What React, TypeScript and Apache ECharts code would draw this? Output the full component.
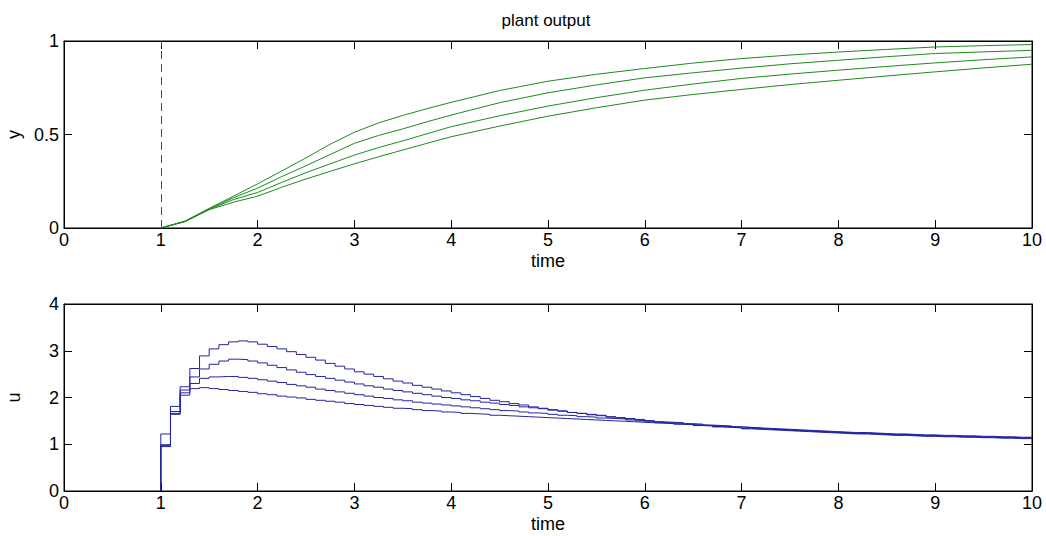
import React, { useEffect, useRef } from "react";
import * as echarts from "echarts";

// ---- plant output y(t) (top panel) ----
const tY = [1, 1.25, 1.5, 1.75, 2, 2.25, 2.5, 2.75, 3, 3.25, 3.5, 3.75, 4, 4.5, 5, 5.5, 6, 6.5, 7, 7.5, 8, 8.5, 9, 9.5, 10];
const y1 = [0, 0.037, 0.105, 0.17, 0.236, 0.305, 0.375, 0.448, 0.512, 0.562, 0.602, 0.638, 0.672, 0.735, 0.785, 0.822, 0.853, 0.882, 0.906, 0.925, 0.941, 0.955, 0.968, 0.975, 0.981];
const y2 = [0, 0.036, 0.102, 0.162, 0.213, 0.275, 0.333, 0.393, 0.453, 0.495, 0.53, 0.568, 0.604, 0.67, 0.723, 0.765, 0.803, 0.83, 0.855, 0.878, 0.897, 0.916, 0.933, 0.942, 0.95];
const y3 = [0, 0.035, 0.1, 0.152, 0.19, 0.244, 0.296, 0.343, 0.39, 0.43, 0.466, 0.504, 0.542, 0.6, 0.652, 0.697, 0.737, 0.77, 0.8, 0.823, 0.844, 0.864, 0.883, 0.9, 0.915];
const y4 = [0, 0.034, 0.098, 0.138, 0.17, 0.218, 0.262, 0.303, 0.343, 0.381, 0.417, 0.453, 0.488, 0.545, 0.598, 0.643, 0.684, 0.714, 0.741, 0.767, 0.79, 0.813, 0.835, 0.856, 0.876];
const refTime = 1;

// ---- control input u(t) (bottom panel), zero-order hold, sample 0.1 from t=1.0 to 10.0 ----
const tU = [
  1.0, 1.1, 1.2, 1.3, 1.4, 1.5, 1.6, 1.7, 1.8, 1.9,
  2.0, 2.1, 2.2, 2.3, 2.4, 2.5, 2.6, 2.7, 2.8, 2.9,
  3.0, 3.1, 3.2, 3.3, 3.4, 3.5, 3.6, 3.7, 3.8, 3.9,
  4.0, 4.1, 4.2, 4.3, 4.4, 4.5, 4.6, 4.7, 4.8, 4.9,
  5.0, 5.1, 5.2, 5.3, 5.4, 5.5, 5.6, 5.7, 5.8, 5.9,
  6.0, 6.1, 6.2, 6.3, 6.4, 6.5, 6.6, 6.7, 6.8, 6.9,
  7.0, 7.1, 7.2, 7.3, 7.4, 7.5, 7.6, 7.7, 7.8, 7.9,
  8.0, 8.1, 8.2, 8.3, 8.4, 8.5, 8.6, 8.7, 8.8, 8.9,
  9.0, 9.1, 9.2, 9.3, 9.4, 9.5, 9.6, 9.7, 9.8, 9.9,
  10.0,
];
const u1 = [
  1.22, 1.81, 2.23, 2.62, 2.89, 3.04, 3.13, 3.19, 3.21, 3.19,
  3.14, 3.09, 3.04, 2.98, 2.92, 2.86, 2.8, 2.73, 2.67, 2.61,
  2.55, 2.5, 2.45, 2.4, 2.35, 2.31, 2.26, 2.22, 2.18, 2.14,
  2.1, 2.06, 2.02, 1.98, 1.94, 1.91, 1.87, 1.84, 1.8, 1.77,
  1.74, 1.71, 1.68, 1.66, 1.63, 1.61, 1.58, 1.56, 1.54, 1.5,
  1.48, 1.46, 1.45, 1.43, 1.42, 1.4, 1.39, 1.37, 1.36, 1.35,
  1.33, 1.32, 1.31, 1.3, 1.29, 1.28, 1.27, 1.26, 1.25, 1.24,
  1.23, 1.22, 1.22, 1.21, 1.2, 1.19, 1.19, 1.18, 1.17, 1.17,
  1.16, 1.16, 1.15, 1.15, 1.14, 1.14, 1.13, 1.13, 1.12, 1.12,
  1.12,
];
const u2 = [
  0.99, 1.7, 2.16, 2.44, 2.61, 2.71, 2.78, 2.82, 2.81, 2.78,
  2.74, 2.69, 2.64, 2.59, 2.54, 2.49, 2.45, 2.41, 2.37, 2.33,
  2.29, 2.25, 2.22, 2.18, 2.15, 2.12, 2.09, 2.06, 2.03, 2.0,
  1.98, 1.95, 1.93, 1.9, 1.88, 1.85, 1.83, 1.8, 1.78, 1.76,
  1.73, 1.71, 1.68, 1.66, 1.64, 1.62, 1.59, 1.57, 1.55, 1.53,
  1.5, 1.48, 1.46, 1.45, 1.43, 1.41, 1.4, 1.38, 1.37, 1.36,
  1.34, 1.33, 1.32, 1.31, 1.3, 1.29, 1.28, 1.27, 1.26, 1.25,
  1.24, 1.23, 1.23, 1.22, 1.21, 1.2, 1.2, 1.19, 1.18, 1.18,
  1.17, 1.17, 1.16, 1.16, 1.15, 1.15, 1.14, 1.14, 1.13, 1.13,
  1.13,
];
const u3 = [
  0.97, 1.66, 2.1, 2.3, 2.41, 2.44, 2.45, 2.45, 2.43, 2.41,
  2.38, 2.35, 2.32, 2.28, 2.25, 2.22, 2.18, 2.15, 2.12, 2.09,
  2.06, 2.03, 2.0, 1.98, 1.95, 1.93, 1.9, 1.88, 1.86, 1.84,
  1.82, 1.8, 1.78, 1.76, 1.74, 1.72, 1.71, 1.69, 1.67, 1.66,
  1.64, 1.62, 1.61, 1.59, 1.58, 1.56, 1.55, 1.54, 1.52, 1.51,
  1.5, 1.48, 1.47, 1.46, 1.44, 1.43, 1.41, 1.4, 1.39, 1.37,
  1.36, 1.35, 1.33, 1.32, 1.31, 1.3, 1.29, 1.28, 1.27, 1.26,
  1.25, 1.24, 1.24, 1.23, 1.22, 1.21, 1.21, 1.2, 1.19, 1.19,
  1.18, 1.18, 1.17, 1.17, 1.16, 1.16, 1.15, 1.15, 1.14, 1.14,
  1.14,
];
const u4 = [
  0.95, 1.64, 2.05, 2.19, 2.21, 2.19, 2.17, 2.15, 2.13, 2.11,
  2.08, 2.06, 2.03, 2.01, 1.99, 1.96, 1.94, 1.92, 1.9, 1.87,
  1.85, 1.83, 1.81, 1.79, 1.77, 1.76, 1.74, 1.72, 1.71, 1.69,
  1.68, 1.66, 1.65, 1.64, 1.62, 1.61, 1.6, 1.59, 1.58, 1.57,
  1.56, 1.55, 1.54, 1.53, 1.52, 1.51, 1.5, 1.49, 1.48, 1.47,
  1.46, 1.45, 1.44, 1.43, 1.42, 1.41, 1.4, 1.39, 1.38, 1.37,
  1.36, 1.35, 1.34, 1.33, 1.32, 1.31, 1.3, 1.29, 1.28, 1.27,
  1.26, 1.25, 1.25, 1.24, 1.23, 1.22, 1.22, 1.21, 1.2, 1.2,
  1.19, 1.19, 1.18, 1.18, 1.17, 1.17, 1.16, 1.16, 1.15, 1.15,
  1.15,
];

const yCurves = [y1, y2, y3, y4];
const uCurves = [u1, u2, u3, u4];

const FONT = "'Liberation Sans', Arial, Helvetica, sans-serif";
const GREEN = "#1f8a1f";
const BLUE = "#2424a0";

function xAx(gridIndex: number, position: "top" | "bottom", withLabels: boolean) {
  return {
    type: "value",
    gridIndex,
    position,
    min: 0,
    max: 10,
    interval: 1,
    name: withLabels ? "time" : "",
    nameLocation: "middle",
    nameGap: 24,
    nameTextStyle: { color: "#000", fontSize: 18, fontFamily: FONT },
    axisLine: { show: true, onZero: false, lineStyle: { color: "#000", width: 1 } },
    axisTick: { show: true, inside: true, length: 8, lineStyle: { color: "#000" } },
    axisLabel: { show: withLabels, color: "#000", fontSize: 18, fontFamily: FONT, margin: 3 },
    splitLine: { show: false },
  };
}

function yAx(gridIndex: number, position: "left" | "right", withLabels: boolean, max: number, interval: number, name: string) {
  return {
    type: "value",
    gridIndex,
    position,
    min: 0,
    max,
    interval,
    name: withLabels ? name : "",
    nameLocation: "middle",
    nameGap: 41,
    nameRotate: 90,
    nameTextStyle: { color: "#000", fontSize: 18, fontFamily: FONT },
    axisLine: { show: true, onZero: false, lineStyle: { color: "#000", width: 1 } },
    axisTick: { show: true, inside: true, length: 8, lineStyle: { color: "#000" } },
    axisLabel: { show: withLabels, color: "#000", fontSize: 18, fontFamily: FONT, margin: 5 },
    splitLine: { show: false },
  };
}

export default function App() {
  const ref = useRef<HTMLDivElement>(null);
  useEffect(() => {
    if (!ref.current) return;
    const chart = echarts.init(ref.current, undefined, { renderer: "svg" });

    const series: any[] = [];
    yCurves.forEach((arr, i) => {
      series.push({
        type: "line",
        xAxisIndex: 0,
        yAxisIndex: 0,
        data: tY.map((t, k) => [t, arr[k]]),
        symbol: "none",
        lineStyle: { color: GREEN, width: 1 },
        itemStyle: { color: GREEN },
        silent: true,
        markLine:
          i === 0
            ? {
                symbol: "none",
                silent: true,
                label: { show: false },
                lineStyle: { color: "#4040a8", type: [8, 5], width: 1 },
                data: [{ xAxis: refTime }],
              }
            : undefined,
      });
    });
    uCurves.forEach((arr) => {
      series.push({
        type: "line",
        xAxisIndex: 2,
        yAxisIndex: 2,
        step: "end",
        data: [[tU[0], 0], ...tU.map((t, k) => [t, arr[k]])],
        symbol: "none",
        lineStyle: { color: BLUE, width: 1 },
        itemStyle: { color: BLUE },
        silent: true,
      });
    });

    const gridBase = {
      left: 64,
      right: 14,
      height: 187,
      show: true,
      borderColor: "#000",
      borderWidth: 1,
      backgroundColor: "transparent",
      containLabel: false,
      outerBoundsMode: "none",
    };

    chart.setOption({
      animation: false,
      backgroundColor: "#fff",
      grid: [
        { ...gridBase, top: 41 },
        { ...gridBase, top: 304 },
      ],
      xAxis: [xAx(0, "bottom", true), xAx(0, "top", false), xAx(1, "bottom", true), xAx(1, "top", false)],
      yAxis: [
        yAx(0, "left", true, 1, 0.5, "y"),
        yAx(0, "right", false, 1, 0.5, ""),
        yAx(1, "left", true, 4, 1, "u"),
        yAx(1, "right", false, 4, 1, ""),
      ],
      graphic: [
        {
          type: "text",
          x: 546,
          y: 20,
          style: { text: "plant output", fill: "#000", fontSize: 17, fontFamily: FONT, textAlign: "center", textVerticalAlign: "middle" },
        },
      ],
      series,
    });
    return () => chart.dispose();
  }, []);
  return <div ref={ref} style={{ position: "fixed", left: 0, top: 0, width: 1046, height: 536, background: "#fff" }} />;
}
